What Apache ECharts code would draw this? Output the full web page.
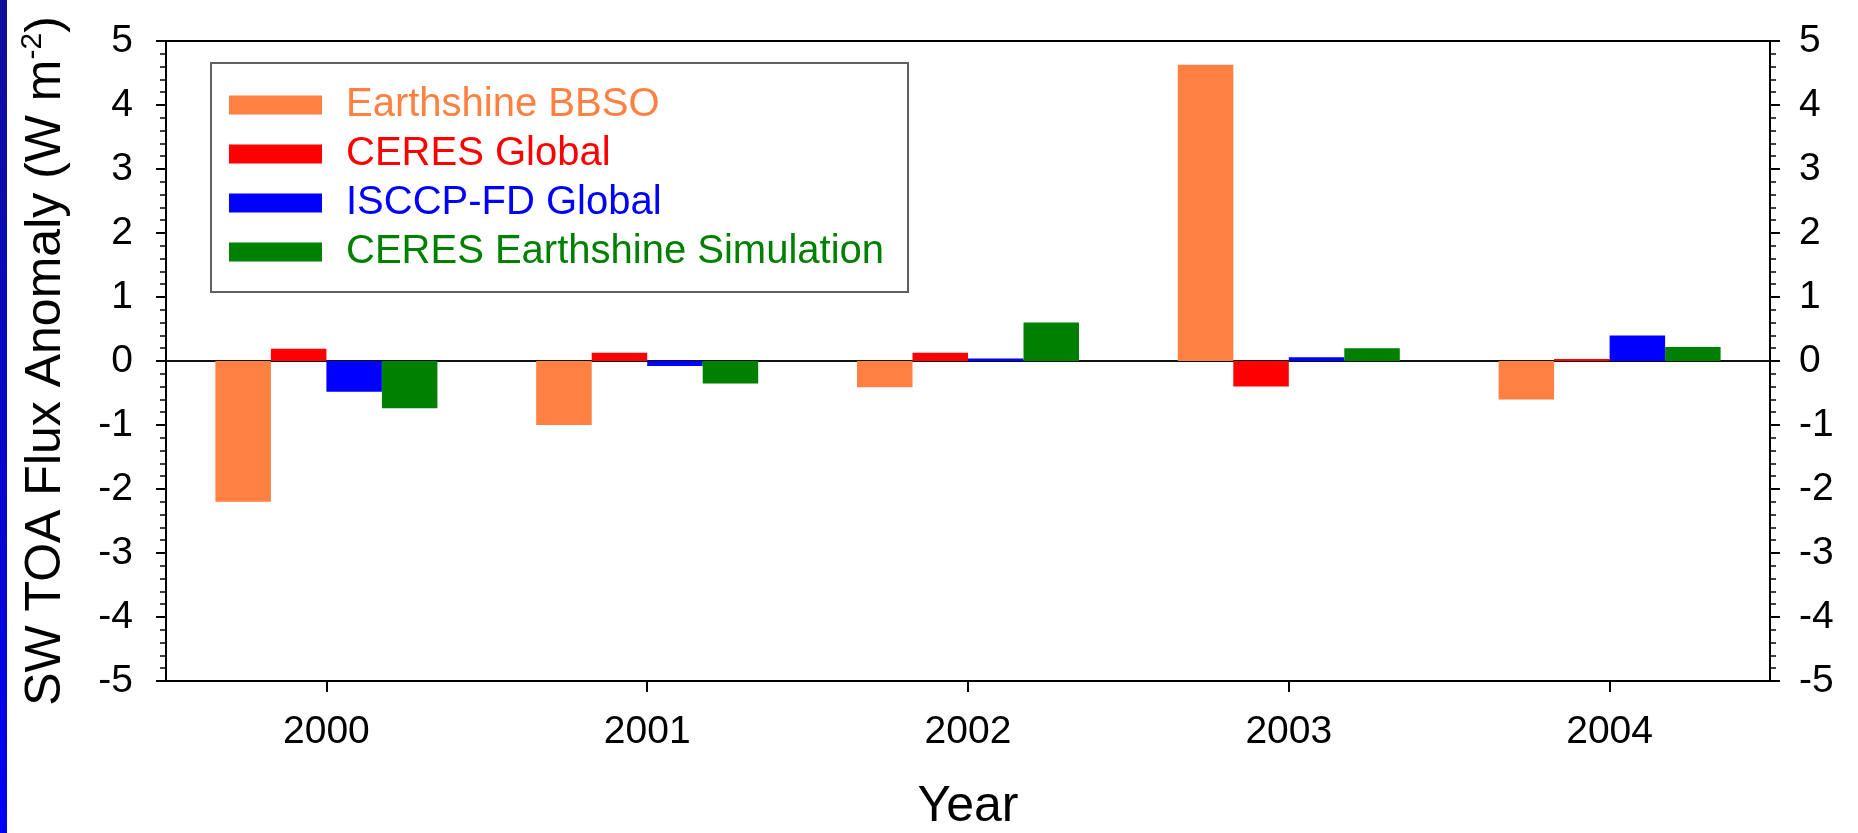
<!DOCTYPE html>
<html>
<head>
<meta charset="utf-8">
<script src="https://cdn.jsdelivr.net/npm/echarts@6/dist/echarts.min.js"></script>
<style>
html,body{margin:0;padding:0;background:#fff;}
#chart{width:1858px;height:833px;}
</style>
</head>
<body>
<div id="chart"></div>
<script>
const years = ['2000', '2001', '2002', '2003', '2004'];
const earthshineBBSO = [-2.2, -1.0, -0.41, 4.63, -0.6];
const ceresGlobal = [0.19, 0.13, 0.13, -0.4, 0.03];
const isccpGlobal = [-0.48, -0.08, 0.04, 0.06, 0.40];
const ceresSim = [-0.74, -0.35, 0.6, 0.2, 0.22];
const seriesNames = ['Earthshine BBSO', 'CERES Global', 'ISCCP-FD Global', 'CERES Earthshine Simulation'];
const seriesColors = ['#ff8040', '#ff0000', '#0000ff', '#008000'];
const seriesData = [earthshineBBSO, ceresGlobal, isccpGlobal, ceresSim];

const FONT = '"Liberation Sans", Arial, sans-serif';
const chart = echarts.init(document.getElementById('chart'));

const yAxisCommon = {
  type: 'value', min: -5, max: 5, interval: 1,
  splitLine: { show: false },
  axisLine: { show: true, lineStyle: { color: '#000', width: 2 } },
  axisTick: { show: true, inside: false, length: 10, lineStyle: { color: '#000', width: 2 } },
  minorTick: { show: true, splitNumber: 5, length: 6, lineStyle: { color: '#000', width: 1.5 } },
  minorSplitLine: { show: false }
};

chart.setOption({
  backgroundColor: '#fff',
  animation: false,
  textStyle: { fontFamily: FONT },
  graphic: [{
    type: 'rect', left: 0, top: 0, shape: { width: 7, height: 833 },
    style: { fill: new echarts.graphic.LinearGradient(0, 0, 0, 1, [
      { offset: 0, color: '#10109a' }, { offset: 1, color: '#0000f5' }]) }
  }],
  grid: {
    left: 166, right: 88, top: 41, bottom: 152,
    show: true, borderColor: '#000', borderWidth: 2, backgroundColor: 'transparent',
    containLabel: false, outerBoundsMode: 'none'
  },
  legend: {
    orient: 'vertical', left: 211, top: 63,
    padding: [22, 24, 20, 18],
    itemWidth: 93, itemHeight: 19, itemGap: 9,
    icon: 'rect',
    borderColor: '#606060', borderWidth: 2,
    backgroundColor: '#fff',
    textStyle: { fontFamily: FONT, fontSize: 40, lineHeight: 40, padding: [0, 0, 0, 19] },
    data: seriesNames.map((n, i) => ({ name: n, textStyle: { color: seriesColors[i] } }))
  },
  xAxis: [{
    type: 'category', data: years, position: 'bottom',
    name: 'Year', nameLocation: 'middle', nameGap: 101,
    nameTextStyle: { fontFamily: FONT, fontSize: 50, color: '#000' },
    axisLine: { show: true, onZero: false, lineStyle: { color: '#000', width: 2 } },
    axisTick: { show: true, alignWithLabel: true, length: 11, lineStyle: { color: '#000', width: 2 } },
    axisLabel: { fontFamily: FONT, fontSize: 39, color: '#000', margin: 32 },
    splitLine: { show: false }
  }, {
    type: 'category', data: years, position: 'bottom',
    axisLine: { show: true, onZero: true, onZeroAxisIndex: 0, lineStyle: { color: '#111', width: 2 } },
    axisTick: { show: false }, axisLabel: { show: false }, splitLine: { show: false }
  }],
  yAxis: [Object.assign({}, yAxisCommon, {
    position: 'left',
    name: '{a|SW TOA Flux Anomaly (W m}{b|-2}{a|)}',
    nameLocation: 'middle', nameGap: 92,
    nameTextStyle: {
      color: '#000',
      rich: {
        a: { fontFamily: FONT, fontSize: 50, color: '#000', lineHeight: 56 },
        b: { fontFamily: FONT, fontSize: 30, color: '#000', verticalAlign: 'top', lineHeight: 30 }
      }
    },
    axisLabel: { fontFamily: FONT, fontSize: 39, color: '#000', margin: 33 }
  }), Object.assign({}, yAxisCommon, {
    position: 'right',
    axisLabel: { fontFamily: FONT, fontSize: 39, color: '#000', margin: 29 }
  })],
  series: seriesNames.map((n, i) => ({
    name: n, type: 'bar', xAxisIndex: 0, yAxisIndex: 0,
    data: seriesData[i],
    barWidth: 55.5, barGap: '0%',
    itemStyle: { color: seriesColors[i] },
    z: 3
  }))
});
</script>
</body>
</html>
